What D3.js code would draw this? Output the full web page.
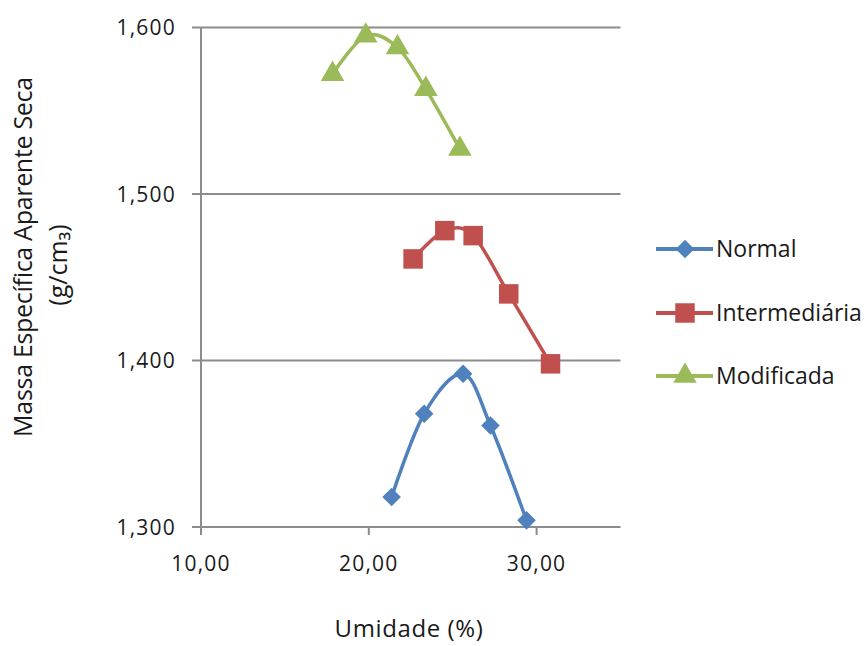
<!DOCTYPE html>
<html><head><meta charset="utf-8">
<script src="https://cdn.jsdelivr.net/npm/d3@7"></script>
<style>
body{margin:0;background:#fff;}
text{font-family:"Open Sans",sans-serif;fill:#1a1a1a;}
</style></head>
<body><svg id="c" width="866" height="646"></svg>
<script>
const seriesNames = ["Normal", "Intermediária", "Modificada"];
const seriesColors = ["#4F81BD", "#C0504D", "#9BBB59"];
const seriesSymbols = ["diamond", "square", "triangle"];
const normalX = [21.36, 23.30, 25.62, 27.25, 29.40];
const normalY = [1.318, 1.368, 1.392, 1.361, 1.304];
const interX = [22.64, 24.53, 26.22, 28.34, 30.83];
const interY = [1.461, 1.478, 1.475, 1.440, 1.398];
const modX = [17.84, 19.82, 21.71, 23.40, 25.43];
const modY = [1.572, 1.595, 1.588, 1.563, 1.527];
const xTicks = [10, 20, 30];
const yTicks = [1.3, 1.4, 1.5, 1.6];
const xTitle = "Umidade (%)";
const yTitle1 = "Massa Específica Aparente Seca";
const yTitle2 = "(g/cm₃)";

const seriesX = [normalX, interX, modX];
const seriesY = [normalY, interY, modY];

const svg = d3.select("#c");
const x = d3.scaleLinear().domain([10, 35]).range([201, 620.5]);
const y = d3.scaleLinear().domain([1.3, 1.6]).range([527, 27.5]);
const fmt = v => d3.format(".2f")(v).replace(".", ",");
const fmtY = v => d3.format(".3f")(v).replace(".", ",");
const gridCol = "#8c8c8c";

// gridlines
svg.append("g").selectAll("line").data(yTicks).join("line")
  .attr("x1", 192).attr("x2", x(35))
  .attr("y1", d => y(d)).attr("y2", d => y(d))
  .attr("stroke", gridCol).attr("stroke-width", 2);

// y axis line
svg.append("line").attr("x1", x(10)).attr("x2", x(10))
  .attr("y1", y(1.6)).attr("y2", y(1.3) + 8)
  .attr("stroke", gridCol).attr("stroke-width", 2);

// x ticks
svg.append("g").selectAll("line").data(xTicks.slice(1)).join("line")
  .attr("x1", d => x(d)).attr("x2", d => x(d))
  .attr("y1", y(1.3)).attr("y2", y(1.3) + 8)
  .attr("stroke", gridCol).attr("stroke-width", 2);

// y tick labels
svg.append("g").selectAll("text").data(yTicks).join("text")
  .attr("x", 176).attr("y", d => y(d)).attr("dy", "0.36em")
  .attr("text-anchor", "end").attr("font-size", 21).attr("letter-spacing", 1.2)
  .text(fmtY);

// x tick labels
svg.append("g").selectAll("text").data(xTicks).join("text")
  .attr("x", d => x(d)).attr("y", 571)
  .attr("text-anchor", "middle").attr("font-size", 21).attr("letter-spacing", 1.2)
  .text(fmt);

// axis titles
svg.append("text").attr("x", 409).attr("y", 637).attr("text-anchor", "middle")
  .attr("font-size", 24).attr("letter-spacing", 0.6).text(xTitle);
svg.append("text").attr("transform", "translate(32,257) rotate(-90)")
  .attr("text-anchor", "middle").attr("font-size", 25).attr("letter-spacing", -0.3).text(yTitle1);
svg.append("text").attr("transform", "translate(67,265) rotate(-90)")
  .attr("text-anchor", "middle").attr("font-size", 25).text(yTitle2);

const symType = {diamond: d3.symbolDiamond2, square: d3.symbolSquare, triangle: d3.symbolTriangle};
const symSize = {diamond: 220, square: 380, triangle: 240};
function marker(g, s, cx, cy, color) {
  const sym = d3.symbol().type(symType[s]).size(symSize[s]);
  g.append("path").attr("d", sym()).attr("transform", `translate(${cx},${cy})`).attr("fill", color);
}

const line = d3.line().x(d => x(d[0])).y(d => y(d[1])).curve(d3.curveCatmullRom.alpha(0));
seriesNames.forEach((name, i) => {
  const pts = seriesX[i].map((v, j) => [v, seriesY[i][j]]);
  const g = svg.append("g");
  g.append("path").attr("d", line(pts)).attr("fill", "none")
    .attr("stroke", seriesColors[i]).attr("stroke-width", 3.5);
  pts.forEach(p => marker(g, seriesSymbols[i], x(p[0]), y(p[1]), seriesColors[i]));
});

// legend
const legY = [249, 313, 376];
seriesNames.forEach((name, i) => {
  const g = svg.append("g");
  g.append("line").attr("x1", 656).attr("x2", 713).attr("y1", legY[i]).attr("y2", legY[i])
    .attr("stroke", seriesColors[i]).attr("stroke-width", 4);
  marker(g, seriesSymbols[i], 685, legY[i], seriesColors[i]);
  g.append("text").attr("x", 716).attr("y", legY[i]).attr("dy", "0.36em")
    .attr("font-size", 23).text(name);
});
</script></body></html>
